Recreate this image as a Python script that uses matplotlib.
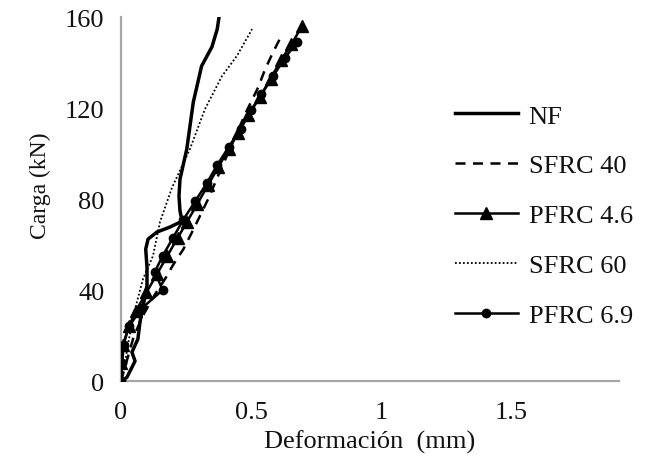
import matplotlib
matplotlib.use("Agg")
import matplotlib.pyplot as plt

plt.rcParams['font.family'] = ['Liberation Serif', 'DejaVu Serif']

# NF (plain concrete)
nf_x = [0.004, 0.023, 0.054, 0.042, 0.065, 0.073, 0.085, 0.1, 0.1, 0.095, 0.104,
        0.138, 0.188, 0.235, 0.227, 0.223, 0.227, 0.253, 0.278, 0.31, 0.35, 0.37, 0.377]
nf_y = [0, 1.7, 8.8, 12.7, 18.5, 26, 33, 42, 50, 58, 62.4,
        65.5, 67.7, 70.3, 74.7, 81.3, 88.8, 102, 122.6, 138.5, 147, 154.7, 160]

# SFRC 40
s40_x = [0, 0.02, 0.05, 0.09, 0.13, 0.17, 0.2, 0.24, 0.28, 0.335, 0.38, 0.43,
         0.48, 0.527, 0.554, 0.585, 0.62]
s40_y = [0, 8, 20, 30, 38, 45, 51, 58, 67, 80, 92, 105,
         118, 129, 137, 144.6, 152.5]

# PFRC 4.6
p46_x = [0, 0, 0.008, 0.03, 0.058, 0.098, 0.138, 0.178, 0.218, 0.254, 0.294,
         0.334, 0.374, 0.414, 0.45, 0.49, 0.535, 0.575, 0.615, 0.655, 0.696]
p46_y = [0, 8, 16, 24, 31, 39, 47, 55, 63, 70, 78,
         86, 94, 102, 109, 117, 125, 133, 141, 148, 156]

# SFRC 60
s60_x = [0, 0.015, 0.03, 0.05, 0.085, 0.123, 0.15, 0.196, 0.265, 0.323, 0.388, 0.446, 0.504]
s60_y = [0, 8, 18, 30, 45, 55, 70, 85, 102, 119.6, 134, 143, 154.7]

# PFRC 6.9
p69_x = [0, 0.005, 0.01, 0.03, 0.08, 0.16, 0.13, 0.16, 0.2, 0.24, 0.285,
         0.33, 0.37, 0.415, 0.46, 0.5, 0.54, 0.585, 0.63, 0.677]
p69_y = [0, 8, 16, 24, 32, 40, 48, 55, 63, 71, 79,
         87, 95, 103, 111, 119, 126, 134, 142, 149]

fig = plt.figure(figsize=(6.45, 4.77), dpi=100)
ax = fig.add_axes([0.1876, 0.199, 0.772, 0.763])

ax.plot(nf_x, nf_y, color='black', lw=2.5, label='NF')
ax.plot(s40_x, s40_y, color='black', lw=1.8, ls=(0, (4, 3)), label='SFRC 40')
ax.plot(p46_x, p46_y, color='black', lw=1.8, marker='^', ms=8, label='PFRC 4.6')
ax.plot(s60_x, s60_y, color='black', lw=1.3, ls=(0, (1, 1.2)), label='SFRC 60')
ax.plot(p69_x, p69_y, color='black', lw=1.8, marker='o', ms=6, label='PFRC 6.9')

ax.set_xlim(0, 1.915)
ax.set_ylim(0, 160)
ax.set_xticks([0, 0.5, 1, 1.5])
ax.set_xticklabels(['0', '0.5', '1', '1.5'])
ax.set_yticks([0, 40, 80, 120, 160])
ax.tick_params(length=0, labelsize=19, colors='#111111')
ax.tick_params(axis='x', pad=14)
ax.tick_params(axis='y', pad=12)

for s in ['top', 'right']:
    ax.spines[s].set_visible(False)
for s in ['left', 'bottom']:
    ax.spines[s].set_color('#a6a6a6')
    ax.spines[s].set_linewidth(1.6)
    ax.spines[s].set_zorder(0)

ax.set_xlabel('Deformación  (mm)', fontsize=19, labelpad=5, color='#111111')
ax.set_ylabel('Carga (kN)', fontsize=17, color='#111111')
ax.yaxis.set_label_coords(-0.14, 0.54)

fig.legend(loc='center left', bbox_to_anchor=(0.705, 0.546), frameon=False,
           fontsize=19, handlelength=2.4, handletextpad=0.4, labelspacing=1.0,
           borderpad=0, borderaxespad=0, labelcolor='#111111')

fig.savefig('out.png', dpi=100)
